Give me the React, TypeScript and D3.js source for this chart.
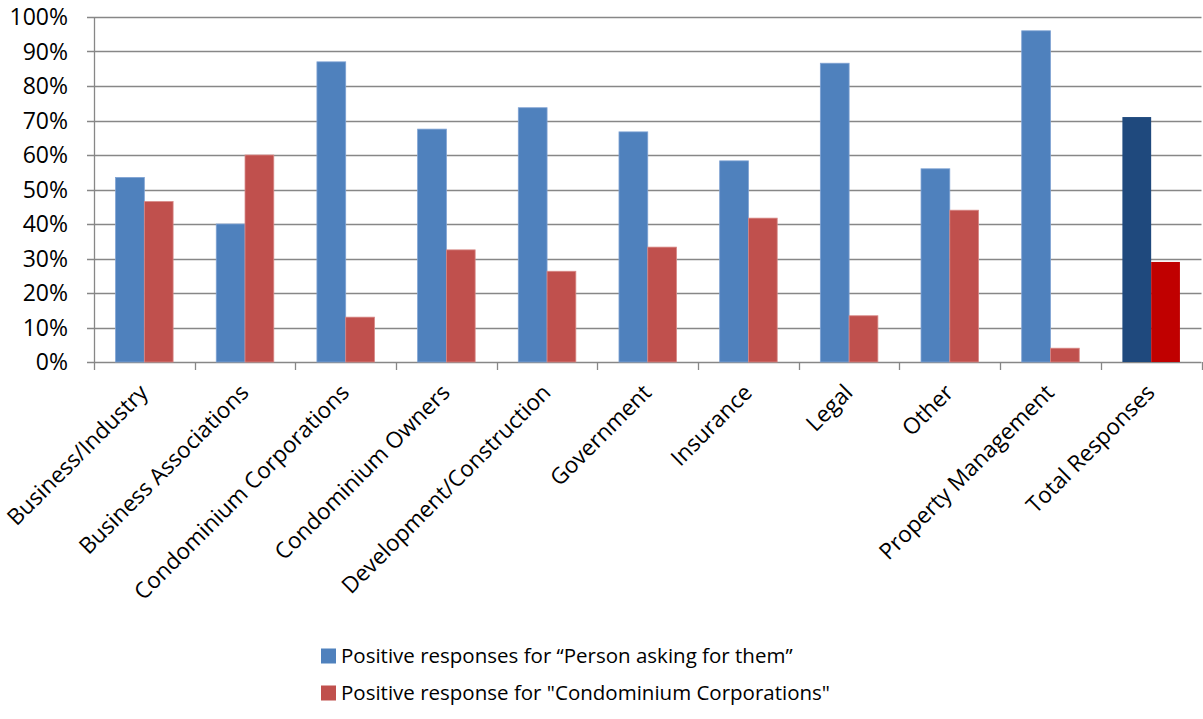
import React, { useEffect, useRef } from "react";
import * as d3 from "d3";

// Survey groups along the category axis
const categories = [
  "Business/Industry",
  "Business Associations",
  "Condominium Corporations",
  "Condominium Owners",
  "Development/Construction",
  "Government",
  "Insurance",
  "Legal",
  "Other",
  "Property Management",
  "Total Responses",
];

// Share of positive responses per group (fractions)
const personAsking = [0.535, 0.4, 0.87, 0.675, 0.737, 0.667, 0.583, 0.866, 0.56, 0.96, 0.71];
const condoCorps = [0.465, 0.6, 0.13, 0.325, 0.263, 0.333, 0.417, 0.134, 0.44, 0.04, 0.29];

const yTicks = [0, 0.1, 0.2, 0.3, 0.4, 0.5, 0.6, 0.7, 0.8, 0.9, 1.0];

const seriesNames = [
  "Positive responses for \u201CPerson asking for them\u201D",
  'Positive response for "Condominium Corporations"',
];

const W = 1203;
const H = 719;
const FONT = "'Open Sans', sans-serif";

export default function App() {
  const ref = useRef<SVGSVGElement | null>(null);

  useEffect(() => {
    const svg = d3.select(ref.current);
    svg.selectAll("*").remove();

    const left = 94;
    const right = 1201.5;
    const top = 17;
    const bottom = 362;

    const x = d3.scaleBand<string>().domain(categories).range([left, right]).paddingInner(0).paddingOuter(0);
    const y = d3.scaleLinear().domain([0, 1]).range([bottom, top]);

    const band = x.bandwidth();
    const barW = band / 3.5;
    const offset = (band - 2 * barW) / 2;

    const gridColor = "#878787";

    // horizontal gridlines
    svg
      .append("g")
      .selectAll("line")
      .data(yTicks)
      .join("line")
      .attr("x1", left - 7)
      .attr("x2", right)
      .attr("y1", (d) => Math.round(y(d)) + 0.5)
      .attr("y2", (d) => Math.round(y(d)) + 0.5)
      .attr("stroke", gridColor)
      .attr("stroke-width", 1.3);

    // value axis line
    svg
      .append("line")
      .attr("x1", left + 0.5)
      .attr("x2", left + 0.5)
      .attr("y1", top)
      .attr("y2", bottom + 0.5)
      .attr("stroke", gridColor)
      .attr("stroke-width", 1.3);

    // category tick marks
    const tickXs = categories.map((c) => x(c) as number).concat([right]);
    svg
      .append("g")
      .selectAll("line")
      .data(tickXs)
      .join("line")
      .attr("x1", (d) => Math.round(d) + 0.5)
      .attr("x2", (d) => Math.round(d) + 0.5)
      .attr("y1", bottom)
      .attr("y2", bottom + 8)
      .attr("stroke", gridColor)
      .attr("stroke-width", 1.3);

    // bars
    const normalColors = ["#4F81BD", "#C0504D"];
    const normalStroke = ["#7FA2D3", "#D88886"];
    const totalColors = ["#1F497D", "#C00000"];
    const series = [personAsking, condoCorps];

    series.forEach((vals, si) => {
      svg
        .append("g")
        .selectAll("rect")
        .data(vals.map((v, i) => ({ v, c: categories[i], i })))
        .join("rect")
        .attr("x", (d) => (x(d.c) as number) + offset + si * barW)
        .attr("y", (d) => y(d.v))
        .attr("width", barW)
        .attr("height", (d) => bottom - y(d.v))
        .attr("fill", (d) => (d.i === categories.length - 1 ? totalColors[si] : normalColors[si]))
        .attr("stroke", (d) => (d.i === categories.length - 1 ? "none" : normalStroke[si]))
        .attr("stroke-width", 0.8);
    });

    // value axis labels
    svg
      .append("g")
      .selectAll("text")
      .data(yTicks)
      .join("text")
      .attr("x", 68)
      .attr("y", (d) => y(d))
      .attr("dy", "0.36em")
      .attr("text-anchor", "end")
      .attr("font-family", FONT)
      .attr("font-size", 23)
      .attr("fill", "#000")
      .text((d) => d3.format(".0%")(d));

    // category labels, rotated
    svg
      .append("g")
      .selectAll("text")
      .data(categories)
      .join("text")
      .attr("transform", (c) => `translate(${(x(c) as number) + band / 2 + 5},${bottom + 32}) rotate(-45)`)
      .attr("text-anchor", "end")
      .attr("font-family", FONT)
      .attr("font-size", 22.5)
      .attr("fill", "#000")
      .text((c) => c);

    // legend
    const legend = svg.append("g");
    const rows = [656, 693];
    seriesNames.forEach((name, i) => {
      legend
        .append("rect")
        .attr("x", 321)
        .attr("y", rows[i] - 7.5)
        .attr("width", 15)
        .attr("height", 15)
        .attr("fill", normalColors[i]);
      legend
        .append("text")
        .attr("x", 341)
        .attr("y", rows[i])
        .attr("dy", "0.36em")
        .attr("font-family", FONT)
        .attr("font-size", 20.5)
        .attr("fill", "#000")
        .text(name);
    });
  }, []);

  return (
    <svg
      ref={ref}
      width={W}
      height={H}
      style={{ position: "absolute", left: 0, top: 0, background: "#fff" }}
    />
  );
}
